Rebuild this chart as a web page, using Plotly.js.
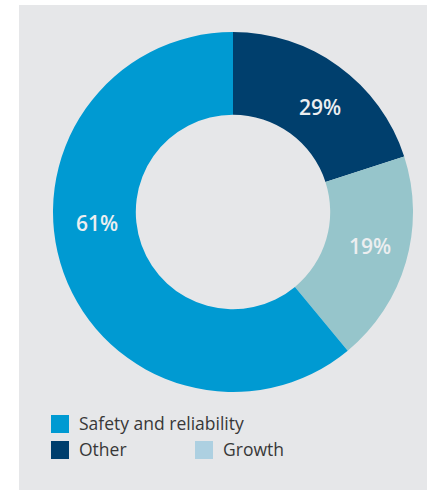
<!DOCTYPE html>
<html>
<head>
<meta charset="utf-8">
<script src="https://cdn.plot.ly/plotly-3.0.1.min.js"></script>
<style>html,body{margin:0;padding:0;background:#fff;}#chart{width:427px;height:490px;}</style>
</head>
<body>
<div id="chart"></div>
<script>
// Data (in drawing order, clockwise from 12 o'clock)
const categories = ["Other", "Growth", "Safety and reliability"];
const values = [20, 19, 61];
const valueLabels = ["29%", "19%", "61%"];
const sliceColors = ["#003f6d", "#96c5cb", "#009ad2"];

// Legend (as in the reference)
const legendNames = ["Safety and reliability", "Other", "Growth"];
const legendColors = ["#009ad2", "#003f6d", "#add0e1"];

const W = 427, H = 490;
const px = x => x / W;
const py = y => 1 - y / H;

// label positions (pixels) for slice labels
const labelPos = [[320, 107], [370, 246], [97, 223]];
// legend layout positions (pixels): swatch left, top
const legendPos = [[51, 415], [51, 441], [195, 441]];

const shapes = [
  {type: "rect", xref: "paper", yref: "paper", x0: 0, x1: px(19), y0: 0, y1: 1, fillcolor: "#ffffff", line: {width: 0}, layer: "above"},
  {type: "rect", xref: "paper", yref: "paper", x0: 0, x1: 1, y0: py(5), y1: 1, fillcolor: "#ffffff", line: {width: 0}, layer: "above"}
];
const annotations = [];
labelPos.forEach((p, i) => {
  annotations.push({xref: "paper", yref: "paper", x: px(p[0]), y: py(p[1]), text: valueLabels[i], showarrow: false,
    xanchor: "center", yanchor: "middle", font: {family: "Open Sans", size: 21, color: "#eceef0", weight: 600}});
});
legendPos.forEach((p, i) => {
  shapes.push({type: "rect", xref: "paper", yref: "paper", x0: px(p[0]), x1: px(p[0] + 18), y0: py(p[1] + 18), y1: py(p[1]),
    fillcolor: legendColors[i], line: {width: 0}});
  annotations.push({xref: "paper", yref: "paper", x: px(p[0] + 26), y: py(p[1] + 8), text: legendNames[i], showarrow: false,
    xanchor: "left", yanchor: "middle", font: {family: "Open Sans", size: 17.5, color: "#383838"}});
});

const trace = {
  type: "pie",
  labels: categories,
  values: values,
  hole: 0.54,
  sort: false,
  direction: "clockwise",
  rotation: 0,
  marker: {colors: sliceColors, line: {width: 0}},
  textinfo: "none",
  hoverinfo: "label+percent",
  domain: {x: [px(53), px(413)], y: [py(392), py(32)]},
  showlegend: false
};

const layout = {
  width: W, height: H,
  margin: {l: 0, r: 0, t: 0, b: 0},
  paper_bgcolor: "#e6e7e9",
  showlegend: false,
  shapes: shapes,
  annotations: annotations
};

Plotly.newPlot("chart", [trace], layout, {displayModeBar: false, staticPlot: true});
</script>
</body>
</html>
